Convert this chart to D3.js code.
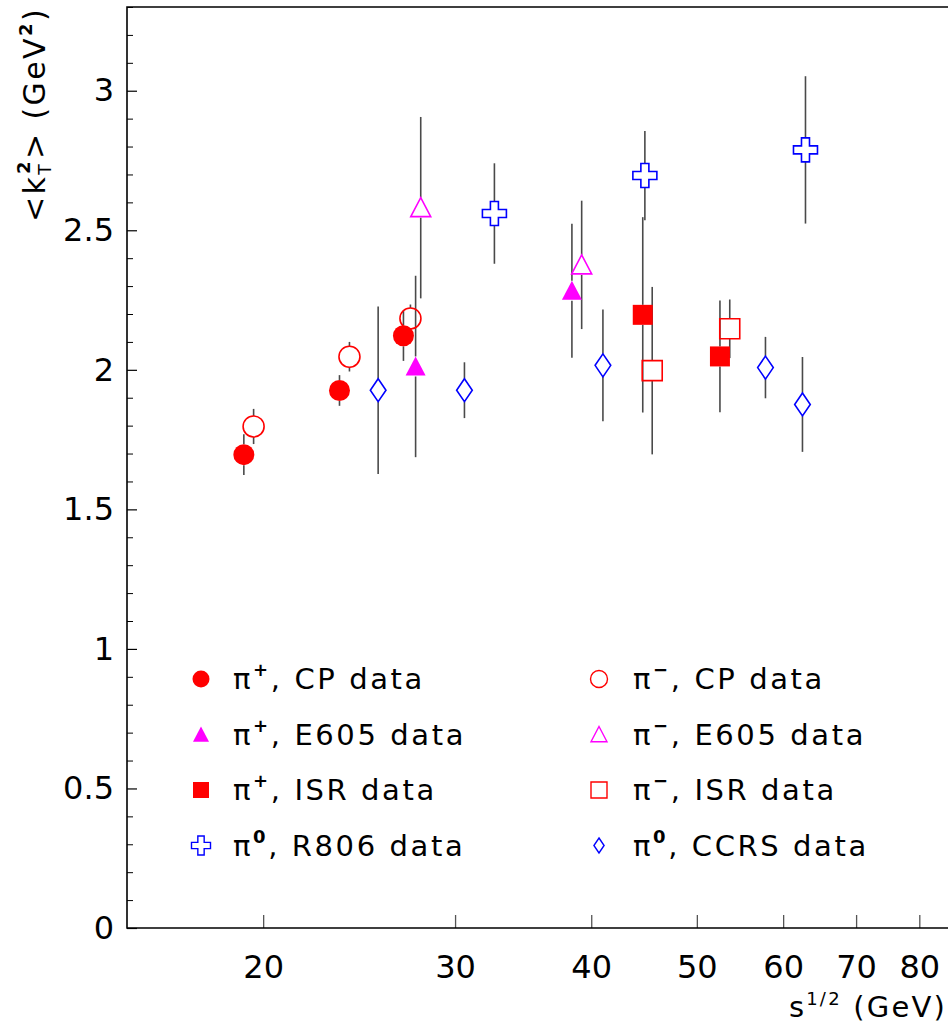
<!DOCTYPE html>
<meta charset="utf-8">
<style>
    body { margin: 0; background: #fff; }
    svg text { font-family: "DejaVu Sans", sans-serif; fill: #000; }
    .errbar { stroke: #4a4a4a; stroke-width: 1.6; }
</style>
<svg width="948" height="1027"></svg>
<script src="https://d3js.org/d3.v7.min.js"></script>
<script>
    // sqrt(s) in GeV, <kT^2> in GeV^2, symmetric error
    var cpPlus_x = [19.2, 23.5, 26.9];
    var cpPlus_y = [1.696, 1.926, 2.122];
    var cpPlus_err = [0.073, 0.055, 0.09];

    var cpMinus_x = [19.6, 24.0, 27.3];
    var cpMinus_y = [1.797, 2.047, 2.184];
    var cpMinus_err = [0.063, 0.053, 0.05];

    var e605Plus_x = [27.6, 38.4];
    var e605Plus_y = [2.012, 2.283];
    var e605Plus_err = [0.325, 0.24];

    var e605Minus_x = [27.9, 39.2];
    var e605Minus_y = [2.581, 2.376];
    var e605Minus_err = [0.325, 0.23];

    var isrPlus_x = [44.6, 52.5];
    var isrPlus_y = [2.197, 2.048];
    var isrPlus_err = [0.35, 0.2];

    var isrMinus_x = [45.5, 53.6];
    var isrMinus_y = [1.997, 2.147];
    var isrMinus_err = [0.3, 0.105];

    var r806_x = [32.6, 44.8, 62.9];
    var r806_y = [2.56, 2.696, 2.788];
    var r806_err = [0.18, 0.16, 0.264];

    var ccrs_x = [25.5, 30.6, 41.0, 57.8, 62.5];
    var ccrs_y = [1.927, 1.927, 2.016, 2.008, 1.876];
    var ccrs_err = [0.3, 0.1, 0.2, 0.11, 0.17];

    var xTickValues = [20, 30, 40, 50, 60, 70, 80];
    var yTickValues = [0, 0.5, 1, 1.5, 2, 2.5, 3];

    // legend: [pion charge sup, label]
    var legendLeft = [["+", "CP data"], ["+", "E605 data"], ["+", "ISR data"], ["0", "R806 data"]];
    var legendRight = [["\u2212", "CP data"], ["\u2212", "E605 data"], ["\u2212", "ISR data"], ["0", "CCRS data"]];

    var red = "#ff0000", magenta = "#ff00ff", blue = "#0000ff";

    function pack(xs, ys, es) {
        return xs.map(function (d, i) { return {x: d, y: ys[i], e: es[i]}; });
    }

    var series = [
        {data: pack(cpMinus_x, cpMinus_y, cpMinus_err), shape: "circle", filled: false, color: red},
        {data: pack(cpPlus_x, cpPlus_y, cpPlus_err), shape: "circle", filled: true, color: red},
        {data: pack(e605Minus_x, e605Minus_y, e605Minus_err), shape: "triangle", filled: false, color: magenta},
        {data: pack(e605Plus_x, e605Plus_y, e605Plus_err), shape: "triangle", filled: true, color: magenta},
        {data: pack(isrMinus_x, isrMinus_y, isrMinus_err), shape: "square", filled: false, color: red},
        {data: pack(isrPlus_x, isrPlus_y, isrPlus_err), shape: "square", filled: true, color: red},
        {data: pack(r806_x, r806_y, r806_err), shape: "cross", filled: false, color: blue},
        {data: pack(ccrs_x, ccrs_y, ccrs_err), shape: "diamond", filled: false, color: blue}
    ];
    var legendMarkers = [
        [series[1], series[3], series[5], series[6]],
        [series[0], series[2], series[4], series[7]]
    ];

    var svg = d3.select("svg");
    var frameL = 127, frameR = 948, frameT = 7, frameB = 928;

    var x = d3.scaleLog().domain([15, 85]).range([frameL, frameR]);
    var y = d3.scaleLinear().domain([0, 3.3]).range([frameB, frameT]);

    // marker path, s = overall size in px
    function markerPath(shape, s) {
        var h = s / 2;
        if (shape === "circle") {
            return "M" + (-h) + ",0A" + h + "," + h + " 0 1,0 " + h + ",0A" + h + "," + h + " 0 1,0 " + (-h) + ",0Z";
        }
        if (shape === "square") {
            return "M" + (-h) + "," + (-h) + "H" + h + "V" + h + "H" + (-h) + "Z";
        }
        if (shape === "triangle") {
            return "M0," + (-h) + "L" + h + "," + (h * 0.9) + "L" + (-h) + "," + (h * 0.9) + "Z";
        }
        if (shape === "diamond") {
            var w = h * 0.68;
            return "M0," + (-h) + "L" + w + ",0L0," + h + "L" + (-w) + ",0Z";
        }
        if (shape === "cross") {
            var a = s / 6;
            return "M" + (-a) + "," + (-h) + "H" + a + "V" + (-a) + "H" + h + "V" + a + "H" + a + "V" + h +
                "H" + (-a) + "V" + a + "H" + (-h) + "V" + (-a) + "H" + (-a) + "Z";
        }
    }
    var plotSize = {circle: 21, square: 20, triangle: 20, diamond: 23, cross: 24};
    var legSize = {circle: 17, square: 16, triangle: 16, diamond: 15, cross: 19};

    // ---- axes ----
    var xAxis = d3.axisBottom(x).tickValues(xTickValues).tickFormat(d3.format("d"))
        .tickSize(-13).tickPadding(27);
    var gx = svg.append("g").attr("transform", "translate(0," + frameB + ")").call(xAxis);
    gx.select(".domain").remove();
    gx.selectAll(".tick line").attr("stroke", "#555").attr("stroke-width", 1.3);
    gx.selectAll(".tick text").style("font-size", "32px").attr("fill", "#000");

    var yMinor = d3.range(0, 3.31, 0.1).filter(function (v) {
        return Math.abs(v * 2 - Math.round(v * 2)) > 1e-6;
    });
    var gyMinor = svg.append("g").attr("transform", "translate(" + frameL + ",0)")
        .call(d3.axisLeft(y).tickValues(yMinor).tickSize(-6).tickFormat(""));
    gyMinor.select(".domain").remove();
    gyMinor.selectAll(".tick line").attr("stroke", "#000").attr("stroke-width", 1);

    var gy = svg.append("g").attr("transform", "translate(" + frameL + ",0)")
        .call(d3.axisLeft(y).tickValues(yTickValues).tickSize(-10).tickPadding(13)
            .tickFormat(function (d) { return d3.format("")(d); }));
    gy.select(".domain").remove();
    gy.selectAll(".tick line").attr("stroke", "#000").attr("stroke-width", 1.2);
    gy.selectAll(".tick text").style("font-size", "32px").attr("fill", "#000");

    // frame
    svg.append("path")
        .attr("d", "M" + frameR + "," + frameT + "H" + frameL + "V" + frameB + "H" + frameR)
        .attr("fill", "none").attr("stroke", "#000").attr("stroke-width", 1.6);

    // ---- error bars (gap around each marker) ----
    var gErr = svg.append("g");
    series.forEach(function (s) {
        var gap = plotSize[s.shape] / 2;
        s.data.forEach(function (d) {
            var cx = x(d.x), cy = y(d.y);
            gErr.append("line").attr("class", "errbar")
                .attr("x1", cx).attr("x2", cx).attr("y1", y(d.y + d.e)).attr("y2", cy - gap);
            gErr.append("line").attr("class", "errbar")
                .attr("x1", cx).attr("x2", cx).attr("y1", cy + gap).attr("y2", y(d.y - d.e));
        });
    });

    // ---- markers ----
    var gMark = svg.append("g");
    series.forEach(function (s) {
        gMark.selectAll(null)
            .data(s.data)
            .enter()
            .append("path")
            .attr("transform", function (d) { return "translate(" + x(d.x) + "," + y(d.y) + ")"; })
            .attr("d", markerPath(s.shape, plotSize[s.shape]))
            .attr("fill", s.filled ? s.color : "none")
            .attr("stroke", s.color)
            .attr("stroke-width", s.filled ? 0 : 1.6);
    });

    // ---- legend ----
    var legCols = [{mx: 201, tx: 233, items: legendLeft}, {mx: 599, tx: 633, items: legendRight}];
    legCols.forEach(function (col, ci) {
        col.items.forEach(function (item, i) {
            var base = 689 + i * 55.5;
            var s = legendMarkers[ci][i];
            svg.append("path")
                .attr("transform", "translate(" + col.mx + "," + (base - 10) + ")")
                .attr("d", markerPath(s.shape, legSize[s.shape]))
                .attr("fill", s.filled ? s.color : "none")
                .attr("stroke", s.color)
                .attr("stroke-width", s.filled ? 0 : 1.4);
            var t = svg.append("text").attr("x", col.tx).attr("y", base)
                .style("font-size", "29px").style("letter-spacing", "2.6px");
            t.append("tspan").text("\u03c0");
            t.append("tspan").attr("dy", -13).style("font-size", "18px").style("font-weight", "bold").text(item[0]);
            t.append("tspan").attr("dy", 13).text(", " + item[1]);
        });
    });

    // ---- axis titles ----
    var yt = svg.append("text")
        .attr("transform", "translate(45," + frameT + ") rotate(-90)")
        .attr("text-anchor", "end")
        .style("font-size", "30px").style("letter-spacing", "2.4px");
    yt.append("tspan").text("<k");
    yt.append("tspan").attr("dy", 6).style("font-size", "17px").text("T");
    yt.append("tspan").attr("dx", -12).attr("dy", -21).style("font-size", "18px").style("font-weight", "bold").text("2");
    yt.append("tspan").attr("dy", 15).text("> (GeV");
    yt.append("tspan").attr("dy", -13).style("font-size", "18px").style("font-weight", "bold").text("2");
    yt.append("tspan").attr("dy", 13).text(")");

    var xt = svg.append("text")
        .attr("x", 947).attr("y", 1017)
        .attr("text-anchor", "end")
        .style("font-size", "29px").style("letter-spacing", "2.2px");
    xt.append("tspan").text("s");
    xt.append("tspan").attr("dy", -12).style("font-size", "18px").text("1/2");
    xt.append("tspan").attr("dy", 12).text(" (GeV)");
</script>
